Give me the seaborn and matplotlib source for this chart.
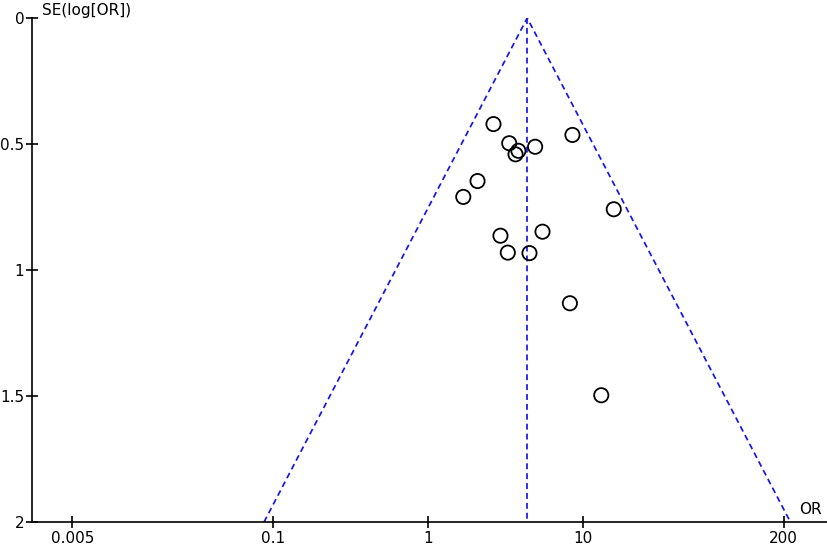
import numpy as np
import pandas as pd
import matplotlib
matplotlib.use("Agg")
import matplotlib.pyplot as plt
import seaborn as sns

# study estimates
odds_ratio = [2.65, 8.59, 3.35, 4.93, 3.84, 3.68, 2.09, 1.69, 15.9, 5.50, 2.94, 3.28, 4.53, 8.27, 13.2]
se_log_or = [0.421, 0.464, 0.497, 0.511, 0.527, 0.541, 0.647, 0.710, 0.759, 0.848, 0.864, 0.931, 0.933, 1.132, 1.497]

# pooled estimate and funnel range
pooled_or = 4.38
se_range = [0.0, 2.0]

x_ticks = [0.005, 0.1, 1, 10, 200]
x_tick_labels = ["0.005", "0.1", "1", "10", "200"]
y_ticks = [0, 0.5, 1, 1.5, 2]
y_tick_labels = ["0", "0.5", "1", "1.5", "2"]

df = pd.DataFrame({"OR": odds_ratio, "SE": se_log_or})

sns.set_style("ticks")
plt.rcParams["font.family"] = ["DejaVu Sans"]
plt.rcParams["text.color"] = "black"

fig = plt.figure(figsize=(8.27, 5.45), dpi=100)
ax = fig.add_axes([32 / 827, 1 - 522 / 545, 1 - 32 / 827, (522 - 18) / 545])

# funnel: 95% pseudo confidence limits
se_line = np.array(se_range)
lower = np.exp(np.log(pooled_or) - 1.96 * se_line)
upper = np.exp(np.log(pooled_or) + 1.96 * se_line)
funnel = pd.DataFrame({
    "OR": [lower[1], pooled_or, upper[1]],
    "SE": [se_line[1], se_line[0], se_line[1]],
})
dash = dict(color="#1414f0", linewidth=1.25, dashes=(3.4, 2.3))
sns.lineplot(data=funnel, x="OR", y="SE", sort=False, estimator=None, ax=ax, **dash)
centre = pd.DataFrame({"OR": [pooled_or, pooled_or], "SE": se_range})
sns.lineplot(data=centre, x="OR", y="SE", sort=False, estimator=None, ax=ax, **dash)

sns.scatterplot(data=df, x="OR", y="SE", ax=ax, s=105, facecolor="none",
                edgecolor="black", linewidth=1.3, zorder=3)

ax.set_xscale("log")
ax.set_xlim(0.00274, 381)
ax.set_ylim(2, 0)
ax.set_xticks(x_ticks)
ax.set_xticklabels(x_tick_labels)
ax.set_yticks(y_ticks)
ax.set_yticklabels(y_tick_labels)
ax.minorticks_off()
ax.set_xlabel("")
ax.set_ylabel("")

for side in ["top", "right"]:
    ax.spines[side].set_visible(False)
for side in ["left", "bottom"]:
    ax.spines[side].set_linewidth(1.2)
    ax.spines[side].set_color("black")
ax.tick_params(axis="both", direction="inout", length=9, width=1.2,
               colors="black", labelsize=11, pad=2)
ax.tick_params(axis="y", pad=1)
ax.patch.set_alpha(0)

fig.text(42 / 827, 1 - 10 / 545, "SE(log[OR])", ha="left", va="center",
         fontsize=11, color="black")
fig.text(799 / 827, 1 - 509 / 545, "OR", ha="left", va="center",
         fontsize=11, color="black")

fig.savefig("out.png", dpi=100)
